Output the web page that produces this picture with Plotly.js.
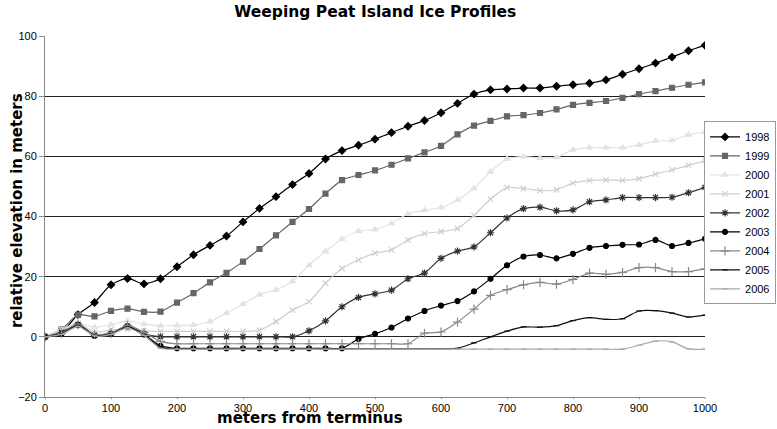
<!DOCTYPE html>
<html>
<head>
<meta charset="utf-8">
<script src="https://cdn.plot.ly/plotly-3.0.1.min.js"></script>
<style>html,body{margin:0;padding:0;background:#fff;}#chart{width:777px;height:429px;}</style>
</head>
<body>
<div id="chart"></div>
<script>
const distance = [0,25,50,75,100,125,150,175,200,225,250,275,300,325,350,375,400,425,450,475,500,525,550,575,600,625,650,675,700,725,750,775,800,825,850,875,900,925,950,975,1000];
const years = ["1998","1999","2000","2001","2002","2003","2004","2005","2006"];
const y1998 = [0,1.5,7.4,11.4,17.3,19.4,17.6,19.3,23.3,27.3,30.4,33.5,38.2,42.7,46.6,50.6,54.3,59.1,61.9,63.7,65.7,67.9,70.0,71.9,74.5,77.6,80.7,82.1,82.4,82.7,82.7,83.3,83.8,84.3,85.4,87.3,89.1,91.0,93.0,95.1,96.9];
const y1999 = [0,2.5,7.3,6.8,8.6,9.4,8.3,8.4,11.4,14.5,18.1,21.3,25.0,29.2,33.7,38.2,42.5,47.6,52.1,53.8,55.3,57.2,59.3,61.3,63.5,67.3,70.2,71.8,73.3,73.7,74.4,75.6,77.1,77.8,78.4,79.4,80.7,81.7,82.8,83.8,84.6];
const y2000 = [0,2.3,4.3,3.2,4.0,5.3,4.3,3.7,3.8,3.9,5.1,7.9,10.9,14.0,15.6,18.5,23.8,28.4,32.5,35.1,35.7,37.7,40.9,42.1,43.0,45.5,49.4,54.9,59.1,59.9,59.4,59.7,62.2,62.9,62.9,62.9,63.8,65.1,65.3,67.2,68.0];
const y2001 = [0,2.5,4.5,1.5,2.3,2.5,2.0,1.8,1.8,1.8,1.8,1.8,1.8,2.2,5.1,8.9,11.7,17.8,22.7,25.6,27.8,28.9,32.2,34.3,35.0,36.0,40.4,45.8,49.6,49.3,48.6,48.9,51.1,51.9,52.2,52.0,52.6,54.1,55.5,57.0,58.6];
const y2002 = [0,1.5,4.0,0.5,1.0,3.5,1.0,0,0,0,0,0,0,0,0,0,2.0,5.3,10.0,13.1,14.3,15.5,19.3,21.2,26.1,28.5,29.9,34.6,39.5,42.6,43.1,41.9,42.2,44.9,45.5,46.3,46.3,46.3,46.4,47.9,49.7];
const y2003 = [0,1.0,4.0,0.3,1.0,3.5,0.8,-3.0,-3.8,-3.8,-3.8,-3.8,-3.8,-3.8,-3.8,-3.8,-3.8,-3.8,-3.8,-0.7,1.0,3.1,6.1,8.6,10.4,11.9,15.1,19.3,23.8,26.7,27.2,26.1,27.6,29.6,30.2,30.6,30.7,32.2,30.2,31.2,32.6];
const y2004 = [0,1.2,4.2,0.8,1.3,3.8,1.5,-1.5,-2.3,-2.3,-2.3,-2.3,-2.3,-2.3,-2.3,-2.3,-2.3,-2.3,-2.3,-2.3,-2.3,-2.3,-2.3,1.2,1.6,4.9,9.2,13.8,15.7,17.3,18.1,17.5,19.1,21.2,20.8,21.4,23.0,23.0,21.7,21.7,22.6];
const y2005 = [0,1.0,3.8,0.5,1.0,3.2,0.5,-3.5,-4.0,-4.0,-4.0,-4.0,-4.0,-4.0,-4.0,-4.0,-4.0,-4.0,-4.0,-4.0,-4.0,-4.0,-4.0,-4.0,-4.0,-3.8,-2.0,0.0,1.9,3.3,3.2,3.7,5.4,6.4,5.8,6.0,8.6,8.7,7.9,6.6,7.2];
const y2006 = [0,0.8,3.5,0.3,0.8,3.0,0.5,-3.8,-4.1,-4.1,-4.1,-4.1,-4.1,-4.1,-4.1,-4.1,-4.1,-4.1,-4.1,-4.1,-4.1,-4.1,-4.1,-4.1,-4.1,-4.1,-4.1,-4.1,-4.1,-4.1,-4.1,-4.1,-4.1,-4.1,-4.1,-4.1,-2.8,-1.4,-1.7,-4.0,-4.1];
const values = [y1998,y1999,y2000,y2001,y2002,y2003,y2004,y2005,y2006];

const styles = [
  {color:'#000000', symbol:'diamond', size:5.5},
  {color:'#666666', symbol:'square', size:5},
  {color:'#e3e3e3', symbol:'triangle-up', size:5.5},
  {color:'#cfcfcf', symbol:'x-thin-open', size:5.5},
  {color:'#333333', symbol:'asterisk-open', size:6},
  {color:'#000000', symbol:'circle', size:5},
  {color:'#888888', symbol:'cross-thin-open', size:6.5},
  {color:'#111111', symbol:'line-ew-open', size:4},
  {color:'#aaaaaa', symbol:'line-ew-open', size:4}
];

const traces = years.map((yr,i)=>({
  type:'scatter', mode:'lines+markers', name:yr,
  x:distance, y:values[i],
  line:{color:styles[i].color, width:1.2, shape:'spline', smoothing:0.7},
  marker:{symbol:styles[i].symbol, size:styles[i].size, color:styles[i].color,
          line:{color:styles[i].color, width:1.2}}
}));

const titleFont = '"DejaVu Sans", "Liberation Sans", Arial, sans-serif';

const layout = {
  width:777, height:429,
  margin:{l:45, r:72, t:36, b:32, autoexpand:false},
  paper_bgcolor:'#ffffff', plot_bgcolor:'#ffffff',
  font:{family:'"Liberation Sans", Arial, sans-serif', size:11, color:'#000'},
  title:{text:'<b>Weeping Peat Island Ice Profiles</b>', x:0.483, xanchor:'center', y:0.985, yanchor:'top',
         font:{family:titleFont, size:15.5, color:'#000'}},
  showlegend:true,
  legend:{x:1.1076, xanchor:'right', y:0.51, yanchor:'middle', bgcolor:'#fff', bordercolor:'#999', borderwidth:1,
          font:{size:11}, itemwidth:30, tracegroupgap:0},
  xaxis:{range:[0,1000], tickvals:[0,100,200,300,400,500,600,700,800,900,1000], showgrid:false, zeroline:false,
         showline:true, linecolor:'#888', linewidth:1, ticks:'outside', ticklen:1, tickcolor:'#888',
         tickfont:{size:11}},
  yaxis:{range:[-20,100], tickvals:[-20,0,20,40,60,80,100], showgrid:true, gridcolor:'#222', gridwidth:1,
         zeroline:false, showline:true, linecolor:'#888', linewidth:1, ticks:'outside', ticklen:5, tickcolor:'#888',
         tickfont:{size:11}},
  annotations:[
    {text:'<b>meters from terminus</b>', xref:'paper', yref:'paper', x:0.4015, y:-0.0886, xanchor:'center', yanchor:'bottom',
     showarrow:false, font:{family:titleFont, size:15, color:'#000'}},
    {text:'<b>relative elevation in meters</b>', xref:'paper', yref:'paper', x:-0.0424, y:0.515, xanchor:'center', yanchor:'middle',
     textangle:-90, showarrow:false, font:{family:titleFont, size:15, color:'#000'}}
  ]
};

Plotly.newPlot('chart', traces, layout, {displayModeBar:false, staticPlot:true});
</script>
</body>
</html>
